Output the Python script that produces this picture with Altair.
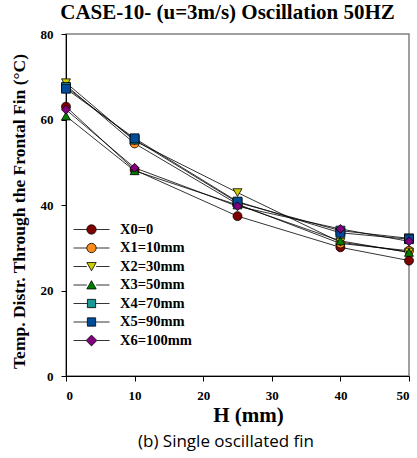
import altair as alt
import pandas as pd

# ---- data ----
H = [0, 10, 25, 40, 50]
series_names = ["X0=0", "X1=10mm", "X2=30mm", "X3=50mm", "X4=70mm", "X5=90mm", "X6=100mm"]
X0 = [63.0, 48.2, 37.4, 30.1, 27.0]
X1 = [68.0, 54.4, 40.2, 31.0, 29.3]
X2 = [68.6, 55.0, 42.9, 31.3, 29.0]
X3 = [60.8, 48.0, 40.0, 31.6, 28.9]
X4 = [67.6, 55.3, 40.6, 34.0, 32.2]
X5 = [67.2, 55.6, 40.8, 33.5, 32.0]
X6 = [62.3, 48.7, 39.7, 34.4, 31.5]
colors = ["#800000", "#FF8C1A", "#CCCC00", "#008000", "#1A9999", "#004C99", "#800080"]
shapes = ["circle", "circle", "triangle-down", "triangle-up", "square", "square", "diamond"]

# legend symbols: marker with a line stub on each side (wider than the unit box)
leg_paths = [
    "M-2,0L-0.52,0M0.52,0L2,0M-0.52,0A0.52,0.52,0,1,1,0.52,0A0.52,0.52,0,1,1,-0.52,0Z",
    "M-2,0L-0.52,0M0.52,0L2,0M-0.52,0A0.52,0.52,0,1,1,0.52,0A0.52,0.52,0,1,1,-0.52,0Z",
    "M-2,0L-0.52,0M0.52,0L2,0M-0.52,-0.44L0.52,-0.44L0,0.48Z",
    "M-2,0L-0.52,0M0.52,0L2,0M-0.52,0.44L0.52,0.44L0,-0.48Z",
    "M-2,0L-0.46,0M0.46,0L2,0M-0.46,-0.46L0.46,-0.46L0.46,0.46L-0.46,0.46Z",
    "M-2,0L-0.46,0M0.46,0L2,0M-0.46,-0.46L0.46,-0.46L0.46,0.46L-0.46,0.46Z",
    "M-2,0L-0.6,0M0.6,0L2,0M0,-0.6L0.6,0L0,0.6L-0.6,0Z",
]

values = [X0, X1, X2, X3, X4, X5, X6]
rows = []
for i, (name, vals) in enumerate(zip(series_names, values)):
    for h, v in zip(H, vals):
        rows.append({"H": h, "T": v, "series": name, "order": i})
df = pd.DataFrame(rows)

serif = "Liberation Serif"
axis_common = dict(labelFont=serif, labelFontSize=13, labelFontWeight="bold", labelColor="black",
                   titleFont=serif, titleFontWeight="bold", titleColor="black",
                   domainColor="black", tickColor="black", tickSize=5, grid=False,
                   labelPadding=8)

x_enc = alt.X("H:Q", scale=alt.Scale(domain=[0, 50], nice=False),
              axis=alt.Axis(values=[0, 10, 20, 30, 40, 50], title="H (mm)",
                            titleFontSize=21, titlePadding=2, titleX=182,
                            titleAlign="center", **axis_common))
y_enc = alt.Y("T:Q", scale=alt.Scale(domain=[0, 80], nice=False),
              axis=alt.Axis(values=[0, 20, 40, 60, 80],
                            title="Temp. Distr. Through the Frontal Fin (\u00b0C)",
                            titleFontSize=17.5, titlePadding=12, titleY=177,
                            titleAlign="center", **axis_common))

base = alt.Chart(df)

lines = base.mark_line(color="black", strokeWidth=0.8).encode(
    x=x_enc, y=y_enc, detail="series:N"
)

points = base.mark_point(filled=True, stroke="black", strokeWidth=0.8, opacity=1, size=80).encode(
    x=x_enc, y=y_enc,
    color=alt.Color("series:N", scale=alt.Scale(domain=series_names, range=colors), legend=None),
    shape=alt.Shape("series:N", scale=alt.Scale(domain=series_names, range=shapes), legend=None),
    order="order:Q",
)

legend_layer = base.transform_filter("false").mark_point(
    filled=True, stroke="black", strokeWidth=0.8, opacity=1
).encode(
    x=x_enc, y=y_enc,
    color=alt.Color("series:N", scale=alt.Scale(domain=series_names, range=colors),
                    legend=alt.Legend(title=None, orient="none", legendX=16, legendY=186,
                                      symbolSize=324, symbolStrokeColor="black",
                                      symbolStrokeWidth=0.8, labelFont=serif,
                                      labelFontSize=14.5, labelFontWeight="bold",
                                      labelColor="black", labelOffset=19, rowPadding=2.5)),
    shape=alt.Shape("series:N", scale=alt.Scale(domain=series_names, range=leg_paths)),
)

caption = alt.Chart(pd.DataFrame({"t": ["(b) Single oscillated fin"]})).mark_text(
    font="Open Sans", fontSize=17, color="black", align="center", baseline="middle"
).encode(x=alt.value(160), y=alt.value(408), text="t:N")

chart = alt.layer(lines, points, legend_layer, caption).resolve_scale(
    color="independent", shape="independent"
).properties(
    width=343, height=342,
    background="white",
    title=alt.TitleParams("CASE-10- (u=3m/s) Oscillation 50HZ", font=serif, fontSize=21,
                          fontWeight="bold", color="black", offset=5, dx=-10),
    autosize=alt.AutoSizeParams(type="none"),
    padding={"left": 66, "top": 34, "right": 8, "bottom": 82},
).configure_view(
    stroke="#808080", strokeWidth=1.5
)

chart.save("out.html", embed_options={"renderer": "svg", "actions": False})
